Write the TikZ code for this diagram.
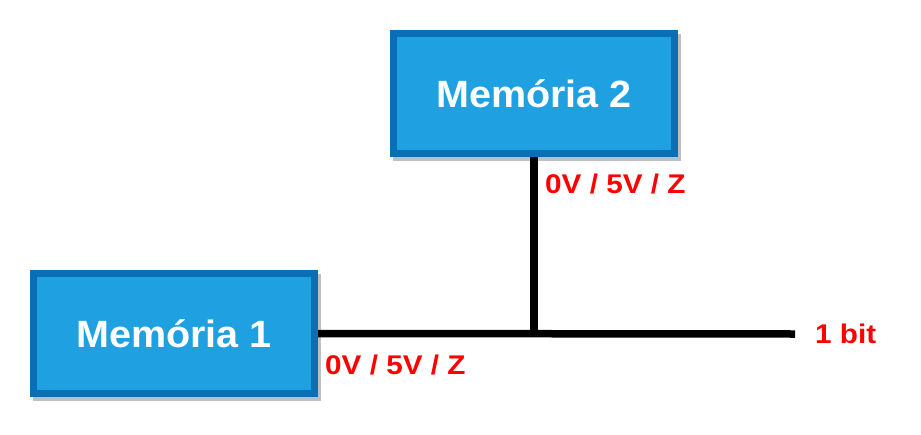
\documentclass[tikz,border=0pt]{standalone}
\usepackage{fontspec}
\setmainfont{Liberation Sans}
\newfontfamily\boxfont[FakeStretch=1.04]{Liberation Sans}
\newfontfamily\lblfont[FakeStretch=1.1]{Liberation Sans}
\definecolor{boxfill}{HTML}{1FA0E1}
\definecolor{boxline}{HTML}{0A6FB5}
\definecolor{lblred}{HTML}{FF0000}
\begin{document}
\begin{tikzpicture}[x=1pt,y=-1pt,
  membox/.style={draw=boxline, fill=boxfill, line width=7pt, minimum width=281pt, minimum height=120pt, inner sep=0pt, text=white, font=\boxfont\fontsize{38}{40}\selectfont\bfseries},
  shadowbox/.style={fill=black!25, minimum width=288pt, minimum height=127pt, inner sep=0pt},
  wire/.style={line width=7.5pt, black},
  lbl/.style={anchor=base west, inner sep=0pt, text=lblred, font=\lblfont\fontsize{27}{29}\selectfont\bfseries}]
\useasboundingbox (0,0) rectangle (921,434);
\node[shadowbox] (s2) at (537,97) {};
\node[shadowbox] (s1) at (177,337) {};
\node[membox] (m2) at (534,93.5) {Memória 2};
\node[membox] (m1) at (174,333.5) {Memória 1};
\coordinate (j) at (534,334);
\coordinate (e) at (795,334);
\draw[wire] (m2.south) -- (j);
\draw[wire] (m1.east) -- (e);
\node[lbl] (l2) at (545,193) {0V / 5V / Z};
\node[lbl] (l1) at (325,374) {0V / 5V / Z};
\node[lbl] (lb) at (815,343) {1 bit};
\end{tikzpicture}
\end{document}
